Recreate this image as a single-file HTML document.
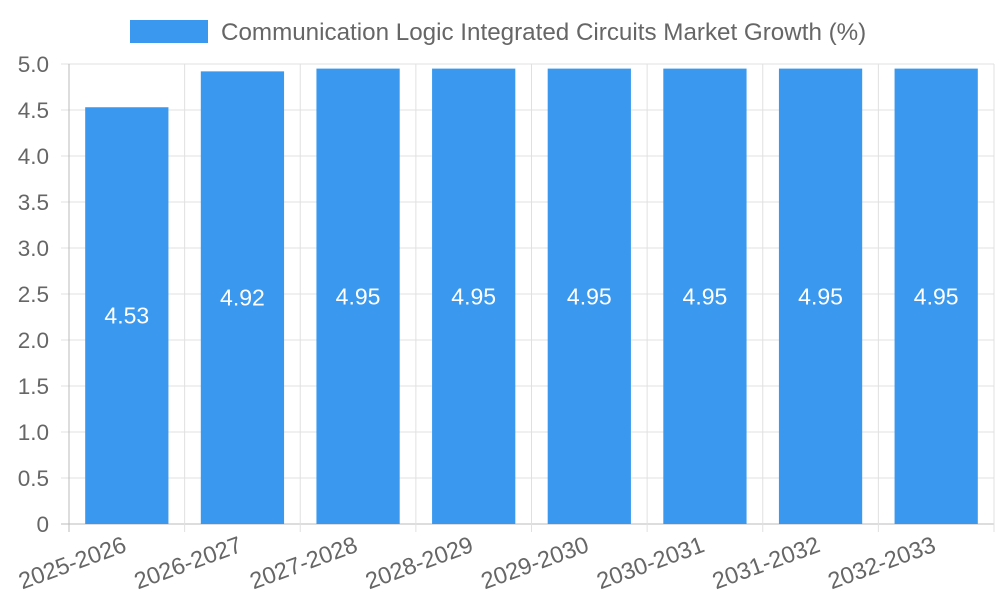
<!DOCTYPE html>
<html><head><meta charset="utf-8"><style>
body{margin:0;background:#fff;}
svg text{font-family:"Liberation Sans",sans-serif;}
</style></head><body>
<svg id="chart" width="1000" height="600">
<rect x="130" y="20" width="78" height="23" fill="#3a99ee"/>
<text x="221" y="40" font-size="24.2" fill="#666">Communication Logic Integrated Circuits Market Growth (%)</text>
<g id="grid"></g><g id="bars"></g><g id="labels"></g>
</svg>
<script>
const categories=["2025-2026","2026-2027","2027-2028","2028-2029","2029-2030","2030-2031","2031-2032","2032-2033"];
const values=[4.53,4.92,4.95,4.95,4.95,4.95,4.95,4.95];
const yTicks=[0,0.5,1,1.5,2,2.5,3,3.5,4,4.5,5];
const yTickLabels=["0","0.5","1.0","1.5","2.0","2.5","3.0","3.5","4.0","4.5","5.0"];
const X0=69,X1=994,Y0=524,Y1=64,YMAX=5;
const bw=(X1-X0)/categories.length;
const y=v=>Y0-(v/YMAX)*(Y0-Y1);
const x=i=>X0+i*bw;
const NS="http://www.w3.org/2000/svg";
function mk(tag,attrs,parent,txt){const e=document.createElementNS(NS,tag);for(const k in attrs)e.setAttribute(k,attrs[k]);if(txt!=null)e.textContent=txt;document.getElementById(parent).appendChild(e);return e;}
yTicks.forEach((t,i)=>{
  const l=mk("line",{x1:X0-8,x2:X1,y1:y(t),y2:y(t),stroke:i==0?"#bbb":"#e0e0e0","stroke-width":1},"grid");
  
  
  const tx=mk("text",{x:X0-20,y:y(t)+8,"text-anchor":"end","font-size":22.5,fill:"#666"},"grid",yTickLabels[i]);
  
  
});
for(let i=0;i<=categories.length;i++){
  const l=mk("line",{x1:x(i),x2:x(i),y1:Y1,y2:Y0+8,stroke:i==0?"#bbb":"#e0e0e0","stroke-width":1},"grid");
  
  
}
categories.forEach((c,i)=>{
  const cx=x(i)+bw/2,w=bw*0.72;
  const r=mk("rect",{x:cx-w/2,y:y(values[i]),width:w,height:Y0-y(values[i]),fill:"#3a99ee"},"bars");
  
  
  const v=mk("text",{x:cx,y:(y(values[i])+Y0)/2+8,"text-anchor":"middle","font-size":23,fill:"#fff"},"labels",values[i].toFixed(2));
  
  
  const tx=cx+1,ty=Y0+27;
  const t=mk("text",{x:tx,y:ty,"text-anchor":"end","font-size":23.5,fill:"#666",transform:`rotate(-20 ${tx} ${ty})`},"labels",c);
  
  
});
</script>
</body></html>
